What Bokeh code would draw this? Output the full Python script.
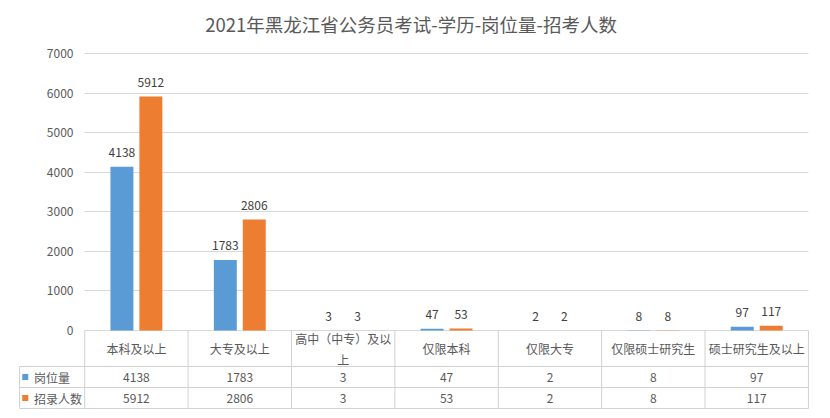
from bokeh.plotting import figure
from bokeh.models import ColumnDataSource, Range1d, FixedTicker, LabelSet
from bokeh.embed import file_html
from bokeh.resources import INLINE
from bokeh.core.properties import value

# ---------------- data ----------------
title_text = "2021年黑龙江省公务员考试-学历-岗位量-招考人数"
categories = ["本科及以上", "大专及以上", "高中（中专）及以上", "仅限本科", "仅限大专", "仅限硕士研究生", "硕士研究生及以上"]
series_names = ["岗位量", "招录人数"]
posts = [4138, 1783, 3, 47, 2, 8, 97]
recruits = [5912, 2806, 3, 53, 2, 8, 117]
y_ticks = [0, 1000, 2000, 3000, 4000, 5000, 6000, 7000]
colors = ["#5B9BD5", "#ED7D31"]

# ---------------- style / layout constants ----------------
FONT = "Noto Sans CJK SC"
TXT = "#595959"
GRID = "#D9D9D9"
LINE = "#D0D0D0"
PX = 7000 / 277.0          # value units per screen pixel
LEG = 0.65                 # width of the table's legend column (in category widths)
OFF, BW = 0.14, 0.222      # bar offset from category centre, bar width
TOP_PX = 53                # pixels above the 7000 gridline (title area)

n = len(categories)
centers = [i + 0.5 for i in range(n)]
header = [c if len(c) <= 8 else c[:8] + "\n" + c[8:] for c in categories]

src = ColumnDataSource(dict(
    x=centers,
    x_posts=[c - OFF for c in centers],
    x_recruits=[c + OFF for c in centers],
    header=header,
    posts=posts,
    recruits=recruits,
    posts_s=[str(v) for v in posts],
    recruits_s=[str(v) for v in recruits],
))

p = figure(
    x_range=Range1d(-LEG, n + 0.02),
    y_range=Range1d(-80 * PX, 7000 + TOP_PX * PX),
    width=830, height=418,
    output_backend="svg", toolbar_location=None,
    x_axis_location=None,
    min_border_left=17, min_border_right=20, min_border_top=0, min_border_bottom=8,
)
p.outline_line_color = None
p.background_fill_color = "white"
p.border_fill_color = "white"

# ---- bars and data labels ----
p.vbar(x="x_posts", top="posts", bottom=0, width=BW, source=src,
       fill_color=colors[0], line_color=None)
p.vbar(x="x_recruits", top="recruits", bottom=0, width=BW, source=src,
       fill_color=colors[1], line_color=None)
for xf, field in (("x_posts", "posts"), ("x_recruits", "recruits")):
    p.add_layout(LabelSet(
        x=xf, y=field, text=field + "_s", source=src,
        y_offset=14, text_align="center", text_baseline="middle",
        text_font=value(FONT), text_font_size="12px", text_color="#404040",
    ))

# ---- value axis and grid ----
p.yaxis.ticker = FixedTicker(ticks=y_ticks)
p.yaxis.axis_line_color = None
p.yaxis.major_tick_line_color = None
p.yaxis.minor_tick_line_color = None
p.yaxis.major_tick_in = 0
p.yaxis.major_tick_out = 0
p.yaxis.major_label_text_font = FONT
p.yaxis.major_label_text_font_size = "12px"
p.yaxis.major_label_text_color = TXT
p.yaxis.major_label_standoff = -56
p.ygrid.ticker = FixedTicker(ticks=y_ticks)
p.ygrid.grid_line_color = GRID
p.ygrid.cross_bounds = (0, n)
p.xgrid.grid_line_color = None

# ---- data table below the plot ----
R1, R2, RB = -36 * PX, -57 * PX, -78 * PX
bx = list(range(n + 1))
p.segment(x0=bx, y0=[0] * (n + 1), x1=bx, y1=[RB] * (n + 1), line_color=LINE, line_width=1)
lx = -LEG + 0.02
p.segment(x0=[lx], y0=[R1], x1=[lx], y1=[RB], line_color=LINE, line_width=1)
p.segment(x0=[lx] * 3, y0=[R1, R2, RB], x1=[n] * 3, y1=[R1, R2, RB], line_color=LINE, line_width=1)

p.text(x="x", y=-18.3 * PX, text="header", source=src,
       text_align="center", text_baseline="middle", text_line_height=1.25,
       text_font=value(FONT), text_font_size="12px", text_color=TXT)
p.text(x="x", y=(R1 + R2) / 2, text="posts_s", source=src,
       text_align="center", text_baseline="middle",
       text_font=value(FONT), text_font_size="12px", text_color=TXT)
p.text(x="x", y=(R2 + RB) / 2, text="recruits_s", source=src,
       text_align="center", text_baseline="middle",
       text_font=value(FONT), text_font_size="12px", text_color=TXT)

leg_y = [(R1 + R2) / 2, (R2 + RB) / 2]
p.scatter(x=[-0.575, -0.575], y=leg_y, marker="square", size=6, fill_color=colors, line_color=None)
p.text(x=[-0.49, -0.49], y=leg_y, text=series_names, text_align="left", text_baseline="middle",
       text_font=value(FONT), text_font_size="12px", text_color=TXT)

# ---- title (chart title, centred over the chart area) ----
p.text(x=[(410.5 - 84) / 103.43], y=[7000 + (TOP_PX - 23.5) * PX], text=[title_text],
       text_align="center", text_baseline="middle",
       text_font=value(FONT), text_font_size="18.5px", text_color=TXT)

open("out.html", "w").write(file_html(p, INLINE))
